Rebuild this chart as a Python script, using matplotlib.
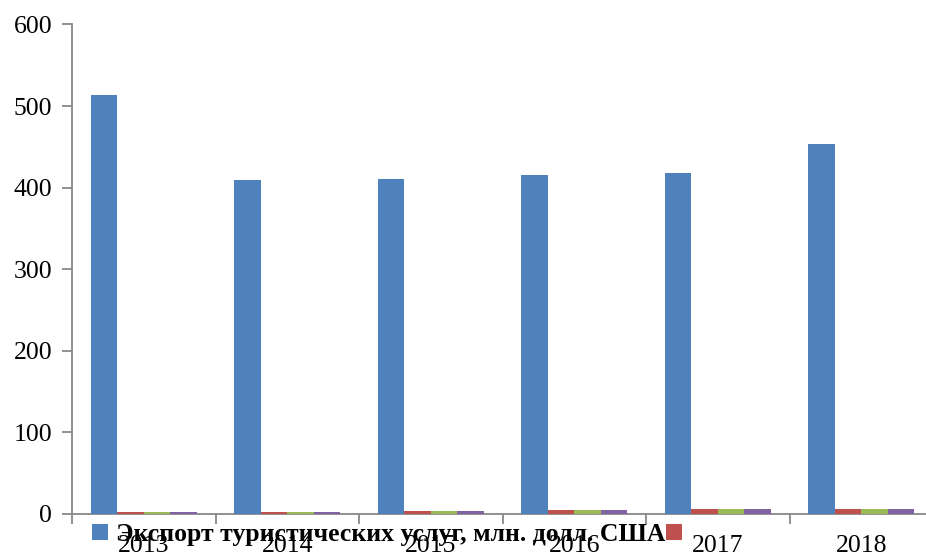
import numpy as np
import matplotlib
matplotlib.use('Agg')
from matplotlib import pyplot as plt
from matplotlib.ticker import FixedLocator, NullFormatter

years = ['2013', '2014', '2015', '2016', '2017', '2018']
export = [514, 409, 411, 416, 418, 454]
series2 = [2, 2.5, 4, 5, 6, 6.5]
series3 = [2, 2.5, 4, 5, 6, 6.5]
series4 = [2, 2.5, 4, 5, 6, 6.5]
legend_label = 'Экспорт туристических услуг, млн. долл. США'

plt.rcParams['font.family'] = ['Liberation Serif', 'DejaVu Serif']

fig = plt.figure(figsize=(9.26, 5.58), dpi=100)
ax = fig.add_axes([72 / 926, 1 - 514 / 558, 861 / 926, 489.5 / 558])

x = np.arange(len(years))
w = 0.185
colors = ['#4F81BD', '#C0504D', '#9BBB59', '#8064A2']
bars = []
for i, (vals, c) in enumerate(zip([export, series2, series3, series4], colors)):
    b = ax.bar(x - 1.5 * w + i * w, vals, w, color=c, linewidth=0, zorder=3)
    bars.append(b)

ax.set_xlim(-0.5, len(years) - 0.5)
ax.set_ylim(0, 600)
ax.set_yticks(range(0, 601, 100))

ax.xaxis.set_major_locator(FixedLocator(np.arange(-0.5, len(years), 1)))
ax.xaxis.set_major_formatter(NullFormatter())
ax.xaxis.set_minor_locator(FixedLocator(x))
ax.set_xticklabels(years, minor=True)
ax.tick_params(axis='x', which='major', length=7.2, width=1.3, color='#888888', direction='out')
ax.tick_params(axis='x', which='minor', length=0, pad=15, labelsize=18.5)
ax.tick_params(axis='y', length=7.2, width=1.3, color='#888888', pad=7, labelsize=18.5)

for s in ['top', 'right']:
    ax.spines[s].set_visible(False)
for s in ['left', 'bottom']:
    ax.spines[s].set_color('#888888')
    ax.spines[s].set_linewidth(1.3)

fig.legend([bars[0], bars[1]], [legend_label, ''], loc='upper left',
           bbox_to_anchor=(92 / 926, 1 - 523 / 558), ncol=2, frameon=False,
           prop={'weight': 'bold', 'size': 18.5}, handlelength=0.62, handleheight=0.62,
           handletextpad=0.3, columnspacing=0.05, borderpad=0, borderaxespad=0)

fig.savefig('out.png', dpi=100)
